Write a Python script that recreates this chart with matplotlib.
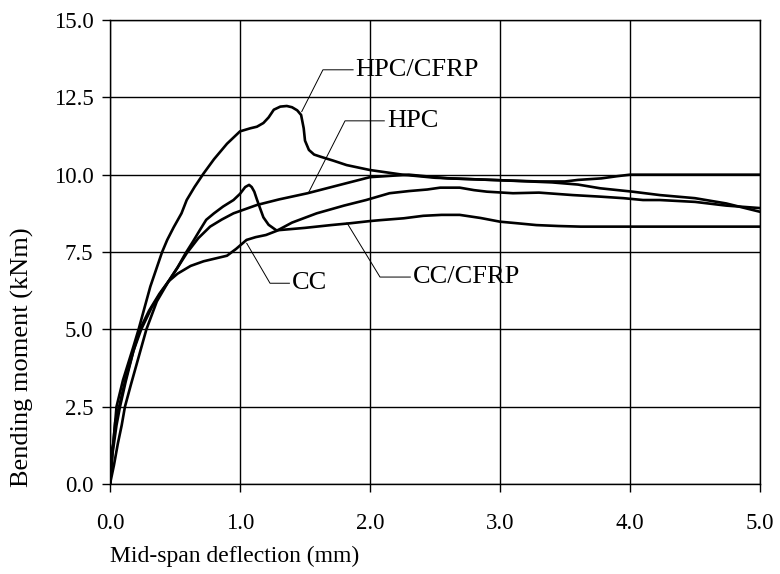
import matplotlib
matplotlib.use("Agg")
import matplotlib.pyplot as plt

# mid-span deflection (mm) / bending moment (kNm)
hpc_cfrp_x = [0, 0.013, 0.026, 0.05, 0.1, 0.18, 0.22, 0.31, 0.40, 0.44, 0.49, 0.55, 0.59, 0.65,
              0.72, 0.80, 0.90, 1.0, 1.08, 1.13, 1.18, 1.22, 1.26, 1.31, 1.36, 1.40, 1.44, 1.47,
              1.49, 1.50, 1.53, 1.57, 1.62, 1.72, 1.82, 2.0, 2.25, 2.5, 3.0, 3.4, 3.6, 3.77,
              4.02, 4.23, 4.5, 4.74, 5.0]
hpc_cfrp_y = [0, 1.1, 1.3, 2.5, 3.36, 4.44, 5.0, 6.38, 7.49, 7.89, 8.3, 8.75, 9.18, 9.6,
              10.04, 10.5, 11.0, 11.4, 11.5, 11.55, 11.67, 11.85, 12.1, 12.2, 12.22, 12.18, 12.08, 11.93,
              11.5, 11.1, 10.8, 10.65, 10.58, 10.45, 10.31, 10.15, 10.0, 9.9, 9.82, 9.75, 9.68, 9.56,
              9.45, 9.34, 9.24, 9.07, 8.8]

hpc_x = [0, 0.02, 0.05, 0.077, 0.12, 0.18, 0.23, 0.30, 0.38, 0.45, 0.52, 0.59, 0.68, 0.77,
         0.86, 0.95, 1.05, 1.13, 1.3, 1.52, 1.75, 2.0, 2.3, 2.6, 3.0, 3.3, 3.5, 3.6, 3.78,
         3.9, 4.0, 4.5, 5.0]
hpc_y = [0, 1.0, 1.9, 2.5, 3.3, 4.3, 5.0, 5.6, 6.15, 6.55, 7.0, 7.46, 7.95, 8.32,
         8.55, 8.75, 8.9, 9.02, 9.2, 9.4, 9.65, 9.92, 10.0, 9.88, 9.82, 9.78, 9.78, 9.83, 9.88,
         9.95, 10.0, 10.0, 10.0]

cc_cfrp_x = [0, 0.02, 0.04, 0.07, 0.12, 0.18, 0.24, 0.32, 0.40, 0.45, 0.52, 0.58, 0.64, 0.69,
             0.74, 0.80, 0.87, 0.95, 1.0, 1.04, 1.07, 1.09, 1.11, 1.13, 1.16, 1.18, 1.22, 1.28,
             1.5, 1.7, 1.85, 2.0, 2.08, 2.26, 2.41, 2.55, 2.69, 2.85, 3.0, 3.13, 3.28, 3.45,
             3.62, 4.0, 4.5, 5.0]
cc_cfrp_y = [0, 1.1, 2.0, 2.5, 3.4, 4.3, 5.0, 5.7, 6.25, 6.55, 7.0, 7.45, 7.85, 8.2,
             8.54, 8.75, 8.97, 9.18, 9.38, 9.6, 9.67, 9.6, 9.45, 9.2, 8.85, 8.62, 8.38, 8.2,
             8.28, 8.37, 8.43, 8.5, 8.53, 8.59, 8.67, 8.7, 8.7, 8.6, 8.48, 8.43, 8.37, 8.34,
             8.32, 8.32, 8.32, 8.32]

cc_x = [0, 0.03, 0.06, 0.09, 0.115, 0.16, 0.22, 0.28, 0.36, 0.45, 0.52, 0.62, 0.72, 0.82,
        0.9, 0.97, 1.05, 1.12, 1.2, 1.28, 1.4, 1.59, 1.8, 1.97, 2.15, 2.3, 2.44, 2.54, 2.69,
        2.8, 2.9, 3.1, 3.3, 3.56, 3.77, 3.95, 4.1, 4.23, 4.5, 4.74, 5.0]
cc_y = [0, 0.6, 1.3, 1.9, 2.5, 3.2, 4.1, 5.0, 5.9, 6.55, 6.8, 7.05, 7.2, 7.3,
        7.38, 7.6, 7.89, 7.98, 8.05, 8.18, 8.45, 8.75, 9.0, 9.18, 9.4, 9.47, 9.52, 9.58, 9.58,
        9.5, 9.45, 9.4, 9.42, 9.34, 9.29, 9.24, 9.18, 9.18, 9.12, 9.0, 8.92]

series = [(hpc_cfrp_x, hpc_cfrp_y), (hpc_x, hpc_y), (cc_cfrp_x, cc_cfrp_y), (cc_x, cc_y)]

# label text, point on curve, elbow of leader, text anchor
labels = ["HPC/CFRP", "HPC", "CC", "CC/CFRP"]
label_tips = [(1.475, 12.04), (1.525, 9.40), (1.052, 7.78), (1.823, 8.44)]
label_elbows = [(1.638, 13.39), (1.808, 11.74), (1.231, 6.49), (2.077, 6.69)]
label_texts = [(1.89, 13.39), (2.13, 11.74), (1.40, 6.49), (2.33, 6.69)]

xticks = [0, 1, 2, 3, 4, 5]
yticks = [0, 2.5, 5.0, 7.5, 10.0, 12.5, 15.0]

plt.rcParams['font.family'] = ['Liberation Serif', 'DejaVu Serif']

fig = plt.figure(figsize=(7.8, 5.74), dpi=100)
ax = fig.add_axes([110 / 780, 1 - 484 / 574, 650 / 780, 464 / 574])

for x, y in series:
    ax.plot(x, y, color='black', lw=1.9, solid_joinstyle='round', zorder=3)

for txt, tip, elb, pos in zip(labels, label_tips, label_elbows, label_texts):
    ax.plot([tip[0], elb[0], pos[0] - 0.02], [tip[1], elb[1], pos[1]], color='black', lw=0.7, zorder=4)
    ax.text(pos[0], pos[1], txt, fontsize=19, ha='left', va='center', zorder=5)

ax.set_xlim(0, 5)
ax.set_ylim(0, 15)
ax.set_xticks(xticks)
ax.set_yticks(yticks)
ax.set_xticklabels([f'{v:.1f}' for v in xticks])
ax.set_yticklabels([f'{v:.1f}' for v in yticks])
ax.grid(True, color='black', lw=1.0)
ax.set_axisbelow(True)
for sp in ax.spines.values():
    sp.set_color('black')
    sp.set_linewidth(1.0)
ax.tick_params(axis='x', direction='out', length=6, width=1.0, pad=15, labelsize=16.5)
ax.tick_params(axis='y', direction='out', length=6, width=1.0, pad=6, labelsize=16.5)

fig.text(110 / 780, 1 - 556 / 574, 'Mid-span deflection (mm)', fontsize=17, ha='left', va='center')
fig.text(22 / 780, 1 - 487 / 574, 'Bending moment (kNm)', fontsize=19, rotation=90,
         ha='center', va='bottom')

fig.savefig('out.png', dpi=100)
